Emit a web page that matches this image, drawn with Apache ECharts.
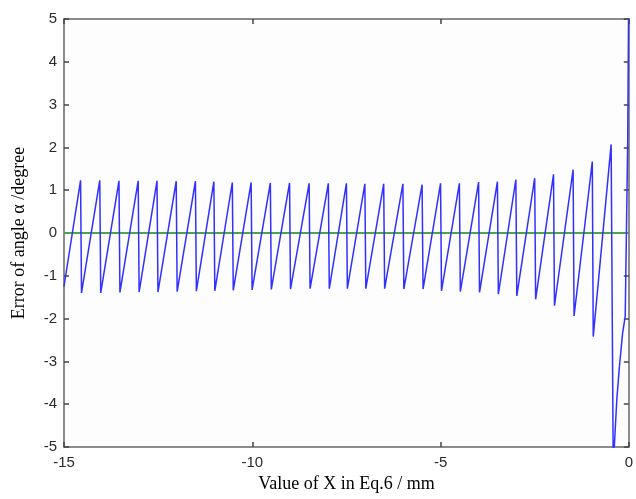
<!DOCTYPE html>
<html>
<head>
<meta charset="utf-8">
<script src="https://cdn.jsdelivr.net/npm/echarts@6/dist/echarts.min.js"></script>
<style>
  html, body { margin: 0; padding: 0; background: #fff; }
  #chart { width: 636px; height: 499px; }
</style>
</head>
<body>
<div id="chart"></div>
<script>
// sawtooth: start point, then each tooth = peak followed by an almost vertical drop to the trough
const startX = -15
const startY = -1.25
const peakX = [-14.56, -14.05, -13.54, -13.03, -12.53, -12.02, -11.51, -11.02, -10.53, -10.03,
  -9.52, -9.01, -8.49, -7.98, -7.50, -7.01, -6.51, -6.00, -5.49, -5.00,
  -4.50, -3.99, -3.49, -3.00, -2.50, -2.00, -1.48, -0.97, -0.47]
const peakY = [1.23, 1.23, 1.22, 1.22, 1.22, 1.21, 1.21, 1.20, 1.18, 1.18,
  1.17, 1.17, 1.16, 1.16, 1.16, 1.15, 1.15, 1.15, 1.13, 1.16,
  1.16, 1.19, 1.20, 1.25, 1.28, 1.37, 1.48, 1.67, 2.07]
const troughX = [-14.535, -14.025, -13.515, -13.005, -12.505, -11.995, -11.485, -10.995, -10.505, -10.005,
  -9.495, -8.985, -8.465, -7.955, -7.475, -6.985, -6.485, -5.975, -5.465, -4.975,
  -4.475, -3.965, -3.465, -2.975, -2.475, -1.975, -1.455, -0.945, -0.41]
const troughY = [-1.40, -1.40, -1.39, -1.38, -1.38, -1.37, -1.36, -1.35, -1.34, -1.33,
  -1.32, -1.31, -1.30, -1.30, -1.30, -1.30, -1.30, -1.31, -1.31, -1.35,
  -1.37, -1.39, -1.43, -1.47, -1.55, -1.70, -1.94, -2.42, -6.0]
// last branch blowing up near X = 0
const tailX = [-0.386, -0.32, -0.25, -0.165, -0.096, -0.03, 0]
const tailY = [-5.0, -3.9, -3.12, -2.34, -1.95, 2.1, 6.0]
const refX = [-15, 0]
const refY = [0, 0]

const errData = [[startX, startY]]
peakX.forEach((x, i) => {
  errData.push([x, peakY[i]])
  errData.push([troughX[i], troughY[i]])
})
tailX.forEach((x, i) => errData.push([x, tailY[i]]))

const chart = echarts.init(document.getElementById('chart'))

const tickFont = { fontFamily: 'Liberation Sans, Arial, sans-serif', fontSize: 15, color: '#2a2a2a' }
const axisLine = { show: true, onZero: false, lineStyle: { color: '#666', width: 1.5 } }
const axisTick = { show: true, inside: true, length: 5, lineStyle: { color: '#444', width: 1.5 } }

chart.setOption({
  animation: false,
  backgroundColor: '#fff',
  grid: { left: 64, right: 3, top: 19, bottom: 52, show: true, backgroundColor: '#fdfdfd', borderWidth: 0 },
  xAxis: [{
    type: 'value', min: -15, max: 0, interval: 5,
    axisLine, axisTick, splitLine: { show: false },
    axisLabel: { ...tickFont, margin: 8 },
    name: 'Value of X in Eq.6 / mm', nameLocation: 'middle', nameGap: 26,
    nameTextStyle: { fontFamily: 'Liberation Serif, Times New Roman, serif', fontSize: 18, color: '#000' }
  }, {
    type: 'value', min: -15, max: 0, interval: 5, position: 'top',
    axisLine, axisTick, axisLabel: { show: false }, splitLine: { show: false }
  }],
  yAxis: [{
    type: 'value', min: -5, max: 5, interval: 1,
    axisLine, axisTick, splitLine: { show: false },
    axisLabel: { ...tickFont, margin: 7 },
    name: 'Error of angle α /degree', nameLocation: 'middle', nameGap: 36,
    nameTextStyle: { fontFamily: 'Liberation Serif, Times New Roman, serif', fontSize: 18, color: '#000' }
  }, {
    type: 'value', min: -5, max: 5, interval: 1, position: 'right',
    axisLine, axisTick, axisLabel: { show: false }, splitLine: { show: false }
  }],
  series: [{
    type: 'line',
    data: refX.map((x, i) => [x, refY[i]]),
    showSymbol: false,
    lineStyle: { color: '#4ea44e', width: 2 },
    z: 2
  }, {
    type: 'line',
    data: errData,
    showSymbol: false,
    clip: true,
    lineStyle: { color: '#3030ff', width: 1.5 },
    z: 3
  }]
})
</script>
</body>
</html>
